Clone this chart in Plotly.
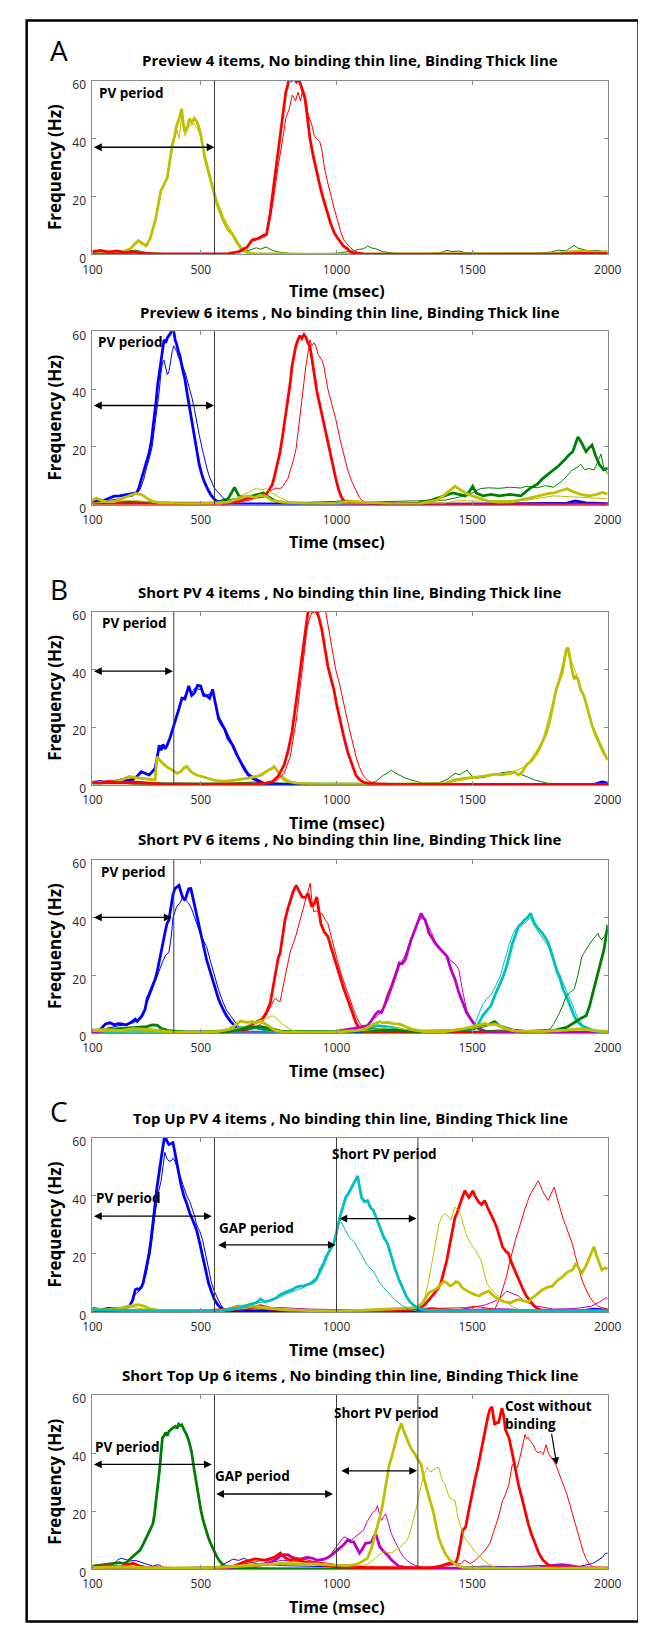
import plotly.graph_objects as go

# ---------------- DATA (time in msec, frequency in Hz) ----------------
X_TICKS = [100, 500, 1000, 1500, 2000]
Y_TICKS = [0, 20, 40, 60]

TITLES = [
    "Preview 4 items, No binding thin line, Binding Thick line",
    "Preview 6 items , No binding thin line, Binding Thick line",
    "Short PV 4 items , No binding thin line, Binding Thick line",
    "Short PV 6 items , No binding thin line, Binding Thick line",
    "Top Up PV 4 items , No binding thin line, Binding Thick line",
    "Short Top Up 6 items , No binding thin line, Binding Thick line",
]
SECTION_LETTERS = ["A", "B", "C"]

# ---- Panel 1: Preview 4 items
p1_yel_bind = [(100,1.2),(130,0.8),(160,1.0),(190,0.6),(215,1.0),(240,2.0),(255,3.5),(269,4.8),(285,3.8),(299,3.0),(315,6.0),(334,12.7),(352,21.9),(365,24.5),(376,26.4),(385,32),(394,37.8),(403,41),(411,44.6),(420,47),(429,50.3),(435,45),(441,42.3),(450,44),(458,46.9),(467,45.5),(476,47),(485,45.8),(494,43.5),(500,41),(506,37.8),(515,33),(524,29.8),(533,26.5),(541,23),(550,20.5),(559,17.3),(571,14.5),(583,11.6),(600,8.5),(617,6.9),(632,4.2),(646,2.3),(660,1.2),(674,0.6),(700,0.3),(750,0.2),(800,0.2),(900,0.1),(1000,0.1),(1200,0.1),(1400,0.1),(1600,0.2),(1800,0.3),(1850,0.8),(1900,1.2),(1950,0.8),(2000,1.0)]
p1_yel_nobind = [(100,0.8),(160,0.6),(215,0.8),(255,3),(269,4.2),(299,2.6),(334,12),(352,21),(376,27),(394,36),(411,43),(420,40),(429,48),(441,41),(450,43),(458,44.5),(476,45),(494,42),(506,38),(524,31),(541,25),(559,19),(583,13),(600,10),(617,7.5),(646,3),(674,0.8),(700,0.3),(800,0.1),(1800,0.1),(1900,0.8),(2000,0.5)]
p1_red_bind = [(100,1.0),(130,1.4),(160,0.8),(190,1.2),(220,0.6),(250,1.0),(280,0.5),(320,0.3),(400,0.2),(500,0.2),(600,0.3),(640,1.0),(670,2.5),(689,5),(710,5.5),(730,6.5),(742,7),(755,14),(766,21.9),(775,29),(784,35.5),(793,42),(802,46.9),(808,52),(813,56),(819,58),(825,61),(834,60),(843,61),(852,59.5),(860,60.5),(867,58.8),(876,56),(884,53.7),(893,47),(902,40),(914,34),(926,28.7),(938,24),(950,19.6),(965,14.5),(979,10.5),(994,7),(1009,4.8),(1024,3),(1039,2),(1050,1),(1062,0.5),(1100,0.2),(1500,0.1),(1800,0.1),(1900,0.4),(2000,0.3)]
p1_red_nobind = [(100,0.4),(300,0.2),(600,0.2),(650,1),(689,4.5),(720,5.5),(742,6.5),(755,12),(766,18),(784,30),(802,40),(813,47),(825,50),(837,55),(849,53),(858,56),(867,53),(876,57),(884,55),(896,48),(908,45),(918,41),(926,40),(938,39),(946,36),(955,30),(967,25),(979,20),(991,16),(1003,12),(1015,8),(1027,5),(1044,3),(1062,1.5),(1080,0.6),(1098,0.3),(1300,0.1),(2000,0.1)]
p1_grn_nobind = [(100,0.5),(200,0.8),(260,1.5),(300,0.6),(400,0.2),(600,0.3),(680,1.5),(704,2.3),(720,1.8),(740,2.6),(763,1.4),(790,0.8),(830,0.3),(900,0.2),(1000,0.4),(1060,1.2),(1085,1.8),(1100,2),(1115,2.9),(1130,2.2),(1143,2),(1170,1.0),(1218,0.3),(1300,0.2),(1380,0.5),(1407,1.4),(1425,1.0),(1451,1.2),(1480,0.5),(1550,0.2),(1650,0.4),(1730,0.4),(1790,0.8),(1818,1.5),(1845,1.2),(1860,2.0),(1876,3.1),(1890,2.2),(1905,1.8),(1930,1.2),(1960,1.4),(1990,1.0),(2000,0.8)]

# ---- Panel 2: Preview 6 items
p2_blu_bind = [(100,1.1),(120,1.8),(139,1.3),(160,2.2),(180,2.9),(200,3.0),(216,3.2),(235,3.5),(252,3.7),(262,4.0),(269,5.1),(281,9.1),(290,12),(299,14.9),(308,17.5),(317,21.7),(323,26),(329,30.9),(335,36),(340,41.1),(346,45),(352,49.1),(358,54),(364,57.1),(370,56),(376,57.7),(382,58.5),(388,59.4),(394,61),(400,60),(405,57),(411,55.4),(417,53),(423,51.4),(432,47),(441,43.4),(450,38),(459,33.1),(467,28),(476,22.9),(485,18),(494,13.7),(503,10.5),(512,8),(524,5.5),(536,3.4),(548,2),(559,1.1),(571,0.6),(583,0.3),(700,0.2),(1000,0.1),(1500,0.1),(1850,0.5),(1880,1.2),(1920,0.6),(2000,0.3)]
p2_blu_nobind = [(100,0.8),(150,1.2),(200,2.0),(250,3.0),(275,5),(290,9),(300,13),(310,16),(320,20),(330,27),(340,33),(346,39),(352,45),(358,49),(364,50),(370,47),(376,45),(382,46),(388,50),(394,53),(400,55),(405,54),(411,53),(417,51),(423,50),(432,48),(441,46),(450,43),(459,40),(467,37),(476,33),(485,28),(494,24),(503,20),(512,16),(521,13),(530,10),(539,8),(548,6),(556,5),(565,4),(574,3),(583,2),(592,1.3),(600,0.8),(620,0.2),(1000,0.1),(2000,0.1)]
p2_red_bind = [(100,0.5),(200,0.3),(400,0.2),(600,0.3),(640,1.2),(675,2.3),(700,2.5),(720,2.6),(734,2.9),(748,4.5),(763,6.9),(772,10),(782,14),(792,18.3),(800,23),(807,27.4),(814,32),(821,36.6),(829,42),(836,48),(843,52),(850,55),(858,57.1),(865,58.5),(872,57.5),(880,58.9),(887,58),(894,56),(902,54.9),(910,50),(917,44.6),(928,39),(939,34.3),(953,28),(968,21.7),(983,15),(997,9.1),(1008,5),(1019,2.3),(1031,1.0),(1043,0.5),(1100,0.3),(1200,0.1),(2000,0.1)]
p2_red_nobind = [(100,0.2),(600,0.2),(680,1.5),(720,3),(750,4.5),(763,5),(777,5.7),(790,5.5),(800,6),(810,7.5),(821,9.1),(830,12),(840,15),(851,19.4),(858,25),(866,32),(873,37),(880,43.4),(887,48),(894,52),(902,57.1),(910,55),(917,56),(924,54.9),(932,52),(939,51),(946,50),(953,48),(960,44),(968,40),(982,35),(997,29.7),(1012,23),(1027,17.1),(1041,12),(1056,8),(1070,5),(1085,2.3),(1100,1.0),(1114,0.5),(1200,0.2),(2000,0.1)]
p2_yel_bind = [(100,1.5),(115,2.2),(130,1.5),(150,1.0),(180,1.0),(200,1.8),(220,2.5),(240,3.2),(260,3.8),(283,3.4),(300,2.2),(320,1.2),(350,0.6),(400,0.4),(500,0.3),(600,0.8),(640,2),(670,3),(700,2.5),(720,3.2),(740,2.8),(760,1.5),(800,0.8),(850,0.5),(900,0.3),(1000,0.5),(1050,1.2),(1100,0.8),(1200,0.3),(1300,0.2),(1370,1.5),(1400,3.5),(1420,5),(1437,6.3),(1455,5.2),(1475,4),(1500,3),(1530,2),(1560,1.2),(1600,0.8),(1650,1),(1700,2),(1740,3),(1780,3.8),(1800,4),(1830,4.8),(1850,5.5),(1870,4.5),(1900,3.5),(1930,3),(1960,3.5),(1980,4.2),(2000,3.6)]
p2_yel_nobind = [(100,0.5),(200,1),(250,1.5),(300,1),(400,0.3),(600,0.8),(650,3),(680,4.5),(704,5.7),(720,5),(740,5.5),(760,4),(790,2.5),(820,1.2),(850,0.4),(1000,0.2),(1400,0.5),(1450,1.5),(1500,1.2),(1700,1.5),(1800,3),(1900,2.5),(2000,2)]
p2_grn_bind = [(100,0.5),(200,0.8),(400,0.5),(550,0.5),(600,2),(612,4),(624,5.9),(640,3),(660,2.5),(690,3),(715,3.5),(730,4),(750,2.5),(780,1),(820,0.6),(900,0.5),(1000,0.8),(1040,1.2),(1080,0.6),(1150,0.3),(1250,0.2),(1300,0.5),(1350,1.5),(1400,3),(1430,4),(1450,3.5),(1475,3),(1490,4.5),(1502,6.3),(1515,4),(1540,3),(1570,3.5),(1600,3),(1640,3.5),(1680,3),(1714,5.7),(1740,7),(1760,9),(1777,10.3),(1800,12),(1820,13.5),(1840,15.4),(1855,17),(1871,18.3),(1882,21),(1890,23.4),(1900,22),(1910,20),(1920,18.3),(1930,19.5),(1942,20.6),(1955,17),(1970,13.7),(1985,12),(2000,12.6)]
p2_grn_nobind = [(100,0.2),(550,0.3),(620,2),(680,2.5),(730,3),(780,1),(850,0.3),(1400,1.5),(1450,2.5),(1500,4),(1530,5.5),(1560,5.8),(1600,5.6),(1640,6),(1680,5.7),(1700,6.3),(1740,5.8),(1770,6.5),(1800,6),(1830,8),(1850,10),(1870,12),(1890,13),(1900,14),(1915,12),(1930,12.5),(1950,12),(1965,15),(1975,17.5),(1985,13),(2000,10.5)]

# ---- Panel 3: Short PV 4 items
p3_blu_bind = [(100,0.8),(130,1.2),(160,0.8),(190,1.0),(206,1.7),(230,1.5),(250,2.0),(265,3.0),(280,4.6),(295,4.0),(309,3.4),(320,4.5),(331,5.7),(338,9),(346,13.7),(353,12),(360,14),(368,12.5),(375,13.7),(385,16),(397,19.4),(408,23),(419,26.3),(430,30),(441,29.7),(448,32),(455,34.3),(466,31),(477,32),(488,34.5),(499,34.3),(510,31),(521,30.9),(532,30),(543,33.1),(554,28),(565,22.9),(576,21),(587,19.4),(600,16),(617,13.7),(632,10.5),(646,8),(660,5.5),(675,3.4),(690,2.3),(704,1.7),(720,0.8),(734,0.5),(800,0.2),(1500,0.1),(1950,0.2),(1980,1.0),(2000,0.6)]
p3_blu_nobind = [(100,0.5),(160,1.0),(206,2.0),(250,1.5),(280,4),(309,3.8),(331,5),(346,12.5),(360,13.5),(375,13),(397,20),(419,27),(441,31),(455,33),(466,32),(477,33.5),(499,33),(521,31),(543,32),(565,24),(587,20),(617,14),(646,8.5),(675,4),(704,2.2),(734,0.8),(760,0.3),(1500,0.1),(2000,0.2)]
p3_yel_bind = [(100,0.8),(150,1.0),(200,1.5),(236,2.9),(260,2.5),(290,2.2),(315,2.0),(331,1.7),(338,9.7),(349,8.5),(360,7.4),(371,6.5),(382,5.7),(396,5.0),(411,4.0),(425,4.5),(438,6),(448,6.3),(460,5),(472,4),(485,3.4),(506,2.8),(528,2.3),(550,1.6),(587,1.1),(615,1.5),(646,1.7),(675,2.3),(704,2.9),(726,3.5),(748,5.1),(760,5.5),(770,6.3),(780,5),(790,3.5),(807,1.7),(830,1.0),(851,0.6),(900,0.3),(1000,0.3),(1200,0.2),(1400,0.5),(1437,1.7),(1470,2.2),(1510,2.5),(1545,3),(1583,3.7),(1610,3.5),(1642,4),(1655,4.5),(1671,3.4),(1685,4.5),(1700,6.9),(1715,8),(1730,9.7),(1745,12),(1759,14.9),(1774,18),(1788,22.9),(1800,28),(1810,33.1),(1821,36),(1832,38.9),(1840,43),(1847,46.9),(1854,47.5),(1861,43.4),(1868,40),(1876,36.6),(1883,37.5),(1890,36.6),(1900,33),(1912,30.9),(1927,26),(1942,20.6),(1956,17),(1971,13.7),(1985,11),(2000,8.6)]
p3_yel_nobind = [(100,0.6),(200,1.2),(236,2.5),(331,1.5),(338,9),(360,7),(382,5.5),(411,4.2),(448,6),(485,3.2),(550,1.5),(646,1.8),(704,3),(748,5.5),(770,6.5),(790,3.8),(830,1.2),(900,0.3),(1400,0.5),(1510,2.5),(1583,3.5),(1642,4.2),(1700,6.5),(1759,15),(1810,33),(1847,47),(1861,44),(1890,37),(1942,21),(2000,9)]
p3_red_bind = [(100,1.0),(130,0.6),(160,1.2),(200,0.8),(250,1.0),(300,0.6),(350,0.3),(500,0.2),(700,0.3),(740,0.6),(763,1.1),(785,3),(807,6.9),(822,12),(836,18.3),(844,24),(851,29.7),(860,35),(868,41.1),(876,47),(883,52.6),(889,57),(894,59.4),(902,61),(913,60),(924,61),(935,58),(946,53.7),(957,47),(968,41.1),(979,37),(990,33.1),(1000,28),(1011,22.9),(1026,17),(1041,11.4),(1056,7),(1071,3.4),(1085,1.8),(1100,0.9),(1120,0.4),(1200,0.2),(2000,0.2)]
p3_red_nobind = [(100,0.5),(300,0.3),(700,0.2),(780,1.5),(807,4),(830,10),(851,22),(866,33),(880,45),(891,54),(902,58),(915,61),(926,59),(939,60),(950,61),(960,60),(972,53),(983,47),(997,40),(1011,35),(1026,28),(1041,22),(1056,16),(1071,10),(1085,6),(1100,3),(1115,1.5),(1130,0.8),(1160,0.3),(2000,0.1)]
p3_grn_bind = [(100,0.6),(200,1.0),(250,0.5),(400,0.3),(700,0.3),(1000,0.2),(1500,0.2),(2000,0.2)]
p3_grn_nobind = [(100,0.3),(300,0.5),(400,0.3),(600,0.5),(700,1),(780,0.5),(900,0.2),(1100,0.3),(1144,1.1),(1160,2.2),(1173,3.4),(1188,4),(1202,5.1),(1215,4.2),(1231,3.4),(1250,2.5),(1275,1.7),(1300,1),(1319,0.6),(1380,0.8),(1410,2),(1437,4),(1455,3.5),(1470,4.5),(1481,5.1),(1495,3.5),(1510,2.3),(1540,2.5),(1560,3),(1583,3.4),(1610,4.2),(1642,4.6),(1660,4.2),(1686,3.4),(1710,2.5),(1730,1.7),(1760,1),(1773,0.6),(1850,0.2),(2000,0.1)]

# ---- Panel 4: Short PV 6 items
p4_blu_bind = [(100,1.0),(125,0.8),(148,3.1),(165,3.5),(180,2.8),(195,3.2),(206,3.1),(225,2.8),(243,3.7),(258,4.8),(265,4),(272,4.8),(283,6),(294,8.2),(302,12),(309,13.4),(320,16),(331,18.6),(338,21),(346,24.3),(353,28),(360,31.2),(368,35),(375,38),(382,39.2),(389,44),(397,48),(404,50.1),(411,50.5),(419,51.2),(426,49),(433,47),(441,46),(448,48),(455,50),(463,50.1),(470,47),(477,44.9),(488,40),(499,34.6),(510,30),(521,25.4),(532,22),(543,18.6),(554,15),(565,11.7),(580,8.5),(594,6),(609,4),(624,2.5),(635,1.5),(646,0.8),(670,0.3),(800,0.2),(2000,0.1)]
p4_blu_nobind = [(100,0.6),(150,1.5),(200,2.5),(250,3.5),(280,5),(300,10),(320,15),(335,19),(346,22),(360,25),(370,27),(382,28),(390,33),(397,40),(404,42),(411,44),(422,45),(433,47),(444,46),(455,45),(466,43),(477,40),(488,37),(499,34),(510,32),(521,30),(532,26),(543,22),(554,18),(565,15),(580,11),(594,8),(609,6),(624,4),(637,2.5),(650,1),(670,0.4),(800,0.1),(2000,0.1)]
p4_red_bind = [(100,0.3),(400,0.2),(600,0.3),(646,0.8),(668,2),(690,3.1),(708,4),(726,4.8),(741,7),(756,10.5),(766,16),(777,23.1),(785,26),(792,27.7),(801,33),(810,39.2),(820,43),(829,46),(840,49),(851,51.2),(862,49),(873,47.2),(884,47),(895,48.4),(902,46),(909,43.8),(918,45),(927,47.2),(934,43),(942,38),(955,35),(968,33.5),(979,30),(990,26.6),(1001,23),(1012,19.7),(1026,15.5),(1041,11.7),(1056,7.5),(1071,3.7),(1082,2),(1092,0.8),(1110,0.3),(1300,0.1),(2000,0.1)]
p4_red_nobind = [(100,0.2),(650,0.3),(690,1.5),(720,3),(740,6),(760,10),(770,11.5),(777,12),(785,11),(792,11),(801,15),(810,20),(820,24),(829,28),(840,31),(851,34),(862,38),(873,42),(884,46),(895,50),(903,52),(909,46),(916,42),(927,42.5),(939,41),(946,41.5),(953,40),(960,39),(968,38),(979,34),(990,30),(1001,26),(1012,22),(1026,18),(1041,14),(1056,10),(1071,6),(1085,3.5),(1100,1.5),(1120,0.4),(1300,0.1),(2000,0.1)]
p4_mag_bind = [(100,0.3),(500,0.2),(800,0.2),(1000,0.5),(1012,0.8),(1060,1.5),(1090,2),(1114,2.5),(1130,4.5),(1144,6.5),(1155,7.5),(1166,7.1),(1177,9.5),(1188,12.8),(1202,16),(1217,19.7),(1224,22),(1231,24.3),(1242,24),(1253,25.4),(1264,29),(1275,32.3),(1286,35),(1297,38),(1305,40),(1312,41.5),(1320,40),(1327,39.2),(1334,37),(1341,34.6),(1352,33),(1363,31.2),(1374,30),(1385,28.9),(1396,28),(1407,26.6),(1422,22),(1437,18.6),(1451,14),(1466,10.5),(1480,7),(1495,4.8),(1510,2.8),(1524,1.4),(1554,0.5),(1650,0.3),(2000,0.2)]
p4_mag_nobind = [(100,0.2),(800,0.2),(1000,0.4),(1100,1.5),(1130,4),(1150,6),(1166,7.5),(1188,11),(1210,17),(1231,23),(1253,27),(1275,33),(1290,36),(1305,39),(1320,40.5),(1334,38),(1349,35),(1363,32),(1378,30),(1392,28),(1407,27),(1422,25),(1437,24),(1451,22),(1466,14),(1480,8),(1495,5),(1510,3),(1530,1.5),(1560,0.5),(1700,0.2),(2000,0.2)]
p4_cyn_bind = [(100,1.0),(150,0.5),(300,0.4),(500,0.3),(620,1),(650,2),(680,1.5),(700,2),(740,1),(800,0.4),(1000,0.5),(1100,1),(1150,2.5),(1200,2),(1250,1),(1300,0.6),(1400,0.8),(1480,1),(1510,1.4),(1525,3.5),(1539,6),(1555,8),(1569,9.4),(1583,12.8),(1594,15),(1605,17.4),(1616,20),(1627,23.1),(1638,27),(1649,31.2),(1660,34),(1671,36.9),(1682,38),(1693,39.2),(1704,40),(1715,41.5),(1722,40),(1730,38),(1745,36),(1759,34.6),(1770,33),(1781,31.2),(1792,28),(1803,24.3),(1814,21),(1825,18.6),(1836,15),(1847,12.8),(1858,10),(1869,7.1),(1880,5),(1890,3.7),(1905,2.5),(1920,1.9),(1935,1.2),(1949,0.8),(1975,0.5),(2000,0.4)]
p4_cyn_nobind = [(100,0.8),(300,0.3),(1000,0.3),(1480,1),(1510,3),(1525,7),(1539,10),(1555,12),(1569,13),(1585,16),(1605,20),(1616,24),(1627,28),(1638,31),(1649,34),(1660,36),(1671,37),(1682,37.5),(1693,38),(1704,39),(1715,40),(1730,37),(1745,35),(1759,33),(1770,31.5),(1781,30),(1792,27),(1803,25),(1814,22),(1825,20),(1836,17),(1847,15),(1858,12.5),(1869,10),(1880,7.5),(1890,5),(1905,3),(1920,2),(1949,0.5),(2000,0.3)]
p4_grn_bind = [(100,0.8),(200,1.5),(260,1.8),(300,2.2),(320,2.8),(338,2.7),(355,1.5),(380,0.8),(450,0.3),(600,0.5),(640,1.5),(680,2),(720,2.2),(760,1.5),(800,0.5),(1000,0.4),(1100,1),(1150,1.2),(1200,1),(1300,0.5),(1400,0.5),(1500,1.5),(1550,2.5),(1570,3.5),(1583,3.9),(1600,2.5),(1650,1),(1700,0.5),(1800,0.8),(1850,2),(1876,3.7),(1900,5),(1920,6),(1932,9),(1942,12.8),(1953,17),(1964,20.8),(1975,25),(1986,28.9),(1993,33),(2000,37.5)]
p4_grn_nobind = [(100,0.5),(300,1.5),(400,0.3),(600,0.5),(700,1.5),(800,0.3),(1500,0.5),(1600,1),(1700,0.8),(1760,1),(1788,1.4),(1800,3),(1817,6),(1832,9),(1847,12.8),(1860,14),(1876,15.1),(1890,20),(1905,26.6),(1920,29),(1935,31.2),(1950,33),(1964,34.6),(1971,33),(1978,32.3),(1990,34),(2000,35.7)]
p4_yel_bind = [(100,1.0),(150,1.2),(200,0.8),(250,1.5),(300,1.2),(350,0.8),(400,0.3),(550,0.3),(600,1.2),(624,2.5),(635,3.5),(646,4.2),(660,3.8),(675,3.7),(690,4),(705,3.5),(719,4.2),(733,3.5),(748,2.5),(763,1.5),(777,0.8),(800,0.4),(900,0.3),(1000,0.3),(1070,0.8),(1100,1.2),(1114,1.9),(1135,3),(1159,3.9),(1173,3.5),(1188,3.7),(1210,3.2),(1231,3.1),(1253,2.2),(1275,1.4),(1320,0.5),(1400,0.5),(1470,1.5),(1510,2.5),(1530,2.8),(1546,3.3),(1565,2.8),(1583,3.1),(1605,2.2),(1627,1.4),(1660,0.6),(1750,0.5),(1850,1),(1900,1.5),(1950,0.8),(2000,0.5)]
p4_yel_nobind = [(100,0.5),(400,0.3),(600,0.8),(650,2),(700,3.5),(740,5),(763,6),(780,5),(800,3),(830,1.2),(860,0.3),(1100,0.8),(1200,2),(1300,0.5),(1500,1.5),(1580,3),(1650,0.5),(1900,1),(2000,0.3)]

# ---- Panel 5: Top Up PV 4 items
p5_blu_bind = [(100,1.2),(130,0.8),(160,1.2),(199,1.1),(220,1.5),(236,2),(248,4),(258,7.7),(265,8),(272,7.7),(280,8.5),(287,10),(298,15),(309,20.2),(316,25),(324,30.5),(331,37),(338,43),(345,48),(353,53.2),(360,57),(367,61),(374,59),(382,57.7),(390,58),(397,58.3),(404,55),(411,52),(418,48),(426,44),(437,40),(448,37.3),(459,34),(470,31.6),(477,30),(484,28.2),(495,24),(506,19.1),(517,14),(528,10),(539,7),(550,4.3),(562,2.5),(573,1.5),(594,0.3),(700,0.2),(1000,0.2),(1500,0.1),(1900,0.4),(1950,1),(2000,0.6)]
p5_blu_nobind = [(100,0.8),(200,1.0),(236,2),(258,6),(280,8),(298,13),(316,22),(331,34),(345,42),(353,45),(360,50),(367,55),(374,53),(382,52),(390,52),(397,53),(404,52),(411,50),(418,48),(426,46),(437,43),(448,40),(459,38),(470,35),(477,33),(484,30),(495,28),(506,25),(517,20),(528,15),(539,10),(550,7),(562,4.5),(573,2.5),(583,1.2),(594,0.5),(620,0.2),(1000,0.1),(2000,0.2)]
p5_cyn_bind = [(100,0.8),(200,0.5),(300,0.4),(450,0.3),(550,0.4),(600,0.8),(646,1.5),(675,2.5),(704,3.2),(720,4.5),(735,3.5),(750,3.8),(763,4.3),(780,5),(793,6),(808,6.5),(822,7),(836,7.7),(850,8.5),(865,8.9),(880,9),(895,9.4),(910,10),(924,11.1),(932,12.5),(939,14.5),(946,15.5),(954,17),(961,19),(968,20.2),(979,22),(990,23.6),(1001,28),(1012,32.7),(1023,36),(1034,39.5),(1045,41),(1056,43),(1067,44.5),(1078,46.9),(1085,43),(1092,39.5),(1103,38),(1114,38.4),(1125,36),(1136,35),(1148,32),(1159,29.3),(1173,26),(1188,23.6),(1202,19),(1217,14.5),(1231,11),(1246,7.7),(1257,5.5),(1268,3.8),(1282,2.5),(1297,1.5),(1315,0.9),(1334,0.6),(1400,0.5),(1600,0.5),(2000,0.5)]
p5_cyn_nobind = [(100,0.5),(300,0.3),(600,0.5),(646,1.2),(704,3),(763,4),(822,6.5),(880,8.5),(939,13),(968,19),(990,24),(1001,27),(1012,32),(1023,30),(1034,28),(1045,26),(1056,25),(1067,24),(1078,22),(1089,20),(1100,18),(1114,16),(1125,15),(1136,14),(1148,12),(1159,10),(1173,8.5),(1188,7),(1202,5.5),(1217,4),(1231,3),(1246,2),(1268,1),(1297,0.3),(2000,0.2)]
p5_yel_bind = [(100,1.0),(150,0.8),(200,1.2),(230,2),(250,2.2),(270,2.5),(290,2),(310,1.2),(350,0.5),(450,0.3),(580,0.5),(620,1.5),(646,2),(680,2.2),(720,1.8),(760,1.2),(800,0.8),(900,0.5),(1000,0.4),(1100,0.6),(1200,1),(1250,1.2),(1275,1.5),(1297,1.5),(1308,2.5),(1319,3.2),(1330,5),(1341,6.6),(1352,7.2),(1363,7.7),(1374,8.5),(1385,9.4),(1396,10.5),(1407,10),(1418,9),(1429,9.4),(1440,10.5),(1451,10),(1462,8.5),(1473,7.7),(1484,7),(1495,6.6),(1510,6),(1525,5.5),(1543,6.5),(1561,7.2),(1580,5.5),(1598,4.3),(1620,3.5),(1642,3.2),(1656,3.8),(1671,4.3),(1690,3.8),(1707,3.4),(1718,4.5),(1729,5.5),(1744,6.5),(1759,7.7),(1777,8.5),(1795,8.9),(1806,10),(1817,11.1),(1832,12),(1847,13.4),(1858,14),(1869,14.5),(1876,15.5),(1883,16.8),(1894,15),(1905,13.4),(1920,16),(1935,19.1),(1942,21),(1949,22.5),(1957,20),(1964,18),(1971,16),(1978,14.5),(1990,15.2),(2000,14.8)]
p5_yel_nobind = [(100,0.5),(250,1.5),(350,0.4),(600,0.5),(680,1.5),(800,0.6),(1000,0.5),(1200,1),(1280,1.5),(1305,2),(1316,3.5),(1327,5.5),(1338,10),(1349,15.7),(1356,20),(1363,23.6),(1370,27),(1378,30.5),(1389,33),(1400,33.9),(1411,33),(1422,31.6),(1429,34),(1437,36.1),(1444,35.5),(1451,35),(1459,33),(1466,30.5),(1477,27),(1488,24.8),(1499,23),(1510,21.4),(1521,20),(1532,18),(1543,14),(1554,10),(1568,8),(1583,6.6),(1605,4.5),(1627,3.2),(1650,1.8),(1671,0.9),(1700,0.3),(2000,0.2)]
p5_red_bind = [(100,0.5),(250,0.3),(500,0.3),(600,1),(640,2),(680,1.5),(720,2.2),(760,1.2),(820,0.5),(1000,0.4),(1200,0.5),(1270,0.8),(1297,0.9),(1308,1.5),(1319,2),(1330,3),(1341,4.3),(1352,5.5),(1363,6.6),(1374,8),(1385,10),(1396,14),(1407,18),(1415,22),(1422,25.9),(1429,29),(1437,32.7),(1444,34),(1451,36.1),(1462,39),(1473,41.8),(1480,40.5),(1488,39.5),(1495,40.5),(1503,41.8),(1510,40),(1518,39),(1525,37.8),(1535,37),(1546,38.4),(1557,36),(1569,33.9),(1580,31.5),(1590,29.3),(1601,26),(1612,22.5),(1623,21),(1634,20.2),(1645,17),(1656,14.5),(1667,12),(1678,10),(1689,7.5),(1700,5.5),(1715,3.5),(1729,2),(1745,1),(1759,0.6),(1850,0.4),(2000,0.3)]
p5_red_nobind = [(100,0.3),(600,0.5),(700,1),(800,0.5),(1000,0.4),(1300,1),(1400,1.2),(1480,1.5),(1510,2),(1540,1.5),(1570,1),(1583,0.9),(1594,3),(1605,5.5),(1616,9),(1627,12.3),(1638,17),(1649,21.4),(1660,25),(1671,28.2),(1682,32),(1693,35),(1704,38),(1715,40.7),(1730,43),(1744,45.2),(1752,43.5),(1759,41.8),(1770,40),(1781,38.4),(1792,41),(1803,43),(1814,39),(1825,35),(1836,32),(1847,29.3),(1858,26.5),(1869,23.6),(1880,19.5),(1890,15.7),(1905,11),(1920,7.7),(1935,5),(1949,3.2),(1964,2),(1978,1.5),(2000,1)]
p5_mag_bind = [(100,0.3),(600,0.4),(800,0.5),(1200,0.4),(1400,0.5),(1600,0.8),(1700,0.5),(2000,0.4)]
p5_mag_nobind = [(100,0.3),(600,0.5),(700,1.2),(800,1.5),(900,1),(1000,0.8),(1100,0.5),(1200,0.5),(1300,1),(1350,1.5),(1400,1),(1450,0.8),(1500,1.5),(1550,2.5),(1590,4),(1610,5.5),(1627,7.2),(1645,6.5),(1660,6),(1671,5.5),(1690,4),(1710,3),(1740,2),(1800,1),(1880,1.2),(1940,2),(1970,3.5),(1985,4.5),(1993,4.9),(2000,4.5)]

# ---- Panel 6: Short Top Up 6 items
p6_grn_bind = [(100,1.0),(133,1.4),(160,1.6),(181,1.9),(200,2.2),(216,1.9),(228,2.4),(240,3.6),(258,5),(275,6.5),(287,8.5),(299,11),(311,13),(323,15.6),(329,19),(335,23.6),(341,28),(347,33.8),(352,39),(358,45.2),(364,46),(370,47),(376,46),(382,47.5),(394,48.5),(406,49.2),(412,48.5),(418,50),(424,49.5),(429,49.8),(438,48),(447,46.4),(456,44),(465,40.7),(474,35),(482,30.4),(491,25),(500,20.2),(509,16.5),(518,13.3),(527,11),(536,8.8),(547,6.5),(559,4.2),(571,2.5),(583,1.4),(600,0.5),(650,0.2),(1000,0.1),(1500,0.1),(2000,0.1)]
p6_blu_nobind = [(100,0.8),(145,1.6),(169,1.0),(180,2.0),(193,3.1),(205,3.8),(216,3.5),(228,3.2),(240,2.8),(258,3.0),(275,2.5),(290,2.0),(305,1.5),(323,1.0),(335,1.4),(347,1.4),(360,0.6),(370,0.2),(500,0.1),(560,0.5),(590,2),(617,3.4),(640,3),(660,3.8),(680,2.5),(720,1.5),(800,1.2),(900,1),(1000,0.6),(1200,0.3),(1400,0.5),(1550,1),(1650,0.8),(1750,1.2),(1850,0.8),(1900,1),(1944,1.9),(1955,2.5),(1968,3.1),(1980,4),(1991,5.4),(2000,5.5)]
p6_mag_bind = [(100,0.3),(400,0.2),(600,0.5),(650,1),(704,0.9),(735,1.8),(763,2.6),(780,3.5),(793,4.5),(808,5),(822,4.9),(836,4),(851,3.2),(870,3.5),(890,4),(909,3.8),(930,3),(953,3.4),(968,4),(983,4.9),(997,6),(1012,7.2),(1027,8.5),(1041,10),(1052,9.5),(1063,9.4),(1074,7.5),(1085,5.5),(1096,7),(1107,8.9),(1118,9),(1129,9.4),(1137,11),(1144,12.3),(1152,10),(1159,7.7),(1170,6.5),(1181,5.5),(1191,4.5),(1202,3.2),(1216,2),(1231,0.9),(1260,0.5),(1297,0.3),(1500,0.2),(1750,0.5),(1790,1.2),(1830,1.5),(1860,1.2),(1900,0.5),(2000,0.3)]
p6_mag_nobind = [(100,0.2),(600,0.5),(700,1.5),(800,3),(900,2.5),(950,3),(968,3.8),(982,5.5),(997,7.2),(1012,9),(1027,11.1),(1041,10.5),(1056,10),(1067,11),(1078,11.7),(1089,12.5),(1100,13.4),(1111,16),(1122,18),(1133,19.5),(1144,20.2),(1151,21.9),(1158,19),(1166,16.8),(1173,18),(1181,19.1),(1191,16),(1202,12.3),(1213,10),(1224,7.7),(1235,6),(1246,4.3),(1260,3),(1275,2),(1290,1.3),(1305,0.9),(1330,0.4),(1500,0.2),(2000,0.2)]
p6_yel_bind = [(100,0.5),(200,0.8),(300,0.5),(500,0.4),(600,0.8),(700,1.5),(800,2),(900,1.8),(1000,1.5),(1040,1.2),(1071,1.5),(1093,2.5),(1114,3.8),(1122,5.5),(1129,7.2),(1140,11),(1151,14.5),(1159,17.5),(1166,20.2),(1173,24),(1181,28.2),(1188,32),(1195,36.1),(1203,38.5),(1210,40.7),(1217,43.5),(1224,46.4),(1232,48.5),(1239,50.3),(1246,48),(1253,46.4),(1260,44.5),(1268,43),(1279,41),(1290,39.5),(1301,37.5),(1312,36.1),(1323,31),(1334,27),(1345,23.5),(1356,20.2),(1366,15.5),(1376,11),(1388,8),(1400,5.4),(1417,3.2),(1435,1.9),(1450,0.9),(1471,0.6),(1550,0.3),(2000,0.3)]
p6_yel_nobind = [(100,0.3),(300,0.3),(600,0.5),(800,1.5),(1000,1.2),(1080,1.2),(1114,1.5),(1129,2.8),(1144,3.8),(1159,5),(1173,6),(1188,5.8),(1202,5.5),(1217,6.5),(1231,7.2),(1246,8.5),(1261,10),(1272,13),(1283,16.8),(1294,21),(1305,25.9),(1312,29),(1319,31.6),(1327,33.5),(1334,35),(1341,34),(1349,33.5),(1356,34.4),(1363,34.4),(1370,35),(1378,35),(1385,32),(1392,30),(1400,29.3),(1407,27),(1415,24.8),(1426,24),(1437,23.6),(1447,18),(1458,15),(1471,11),(1488,9),(1506,6.5),(1522,5),(1541,3.1),(1560,1.8),(1577,0.8),(1600,0.4),(2000,0.2)]
p6_red_bind = [(100,0.8),(150,1.2),(200,0.8),(230,1.5),(250,2),(270,1.2),(300,0.5),(400,0.2),(550,0.3),(620,1),(660,2.5),(700,3.5),(740,3),(770,4),(793,5.5),(810,4),(830,3),(851,3.4),(880,2.5),(910,2),(950,1.5),(1000,0.8),(1100,0.5),(1200,0.4),(1300,0.4),(1350,0.5),(1378,0.9),(1400,1.5),(1415,2),(1423,1.9),(1432,2.2),(1441,2.5),(1447,4),(1453,6.5),(1459,10),(1465,13.3),(1470,14),(1476,14.5),(1485,19),(1494,23.6),(1503,27.5),(1512,31.5),(1521,35),(1530,39.5),(1536,41.5),(1541,44.1),(1547,47.5),(1553,50.9),(1559,53),(1565,54.9),(1573,56),(1578,53),(1583,49.8),(1590,50.5),(1597,50.5),(1604,53),(1610,55.5),(1616,53),(1623,48),(1630,46.5),(1636,45.2),(1648,40),(1660,33.8),(1671,29),(1683,24.7),(1695,20),(1707,15.6),(1719,12),(1731,8.8),(1746,5.5),(1761,3.1),(1780,1.5),(1798,0.8),(1830,0.5),(1900,0.3),(2000,0.3)]
p6_red_nobind = [(100,0.5),(200,0.8),(300,0.3),(600,0.8),(700,2.5),(760,4),(800,5),(830,4.5),(870,3.5),(920,2.5),(970,2),(1000,1.5),(1100,0.8),(1200,0.5),(1300,0.4),(1400,1),(1440,1.5),(1459,1.9),(1471,3.1),(1482,2.5),(1494,1.9),(1512,3),(1530,4.8),(1548,6.5),(1565,8.8),(1577,12),(1589,15.6),(1600,19),(1612,23.6),(1624,26),(1636,29.3),(1642,33),(1648,36.1),(1657,35),(1666,35),(1675,38),(1683,41.8),(1689,44),(1695,46.4),(1701,45),(1707,45.2),(1716,44),(1725,42.9),(1734,41),(1743,40.1),(1752,40.5),(1761,39.5),(1767,41),(1773,42.9),(1781,40),(1790,38.9),(1799,37.5),(1808,36.1),(1817,34),(1826,31.5),(1838,28.5),(1849,25.9),(1861,22),(1873,17.9),(1885,14),(1897,9.9),(1908,6.5),(1920,3.6),(1932,1.8),(1944,0.8),(1970,0.4),(2000,0.5)]

# period boundaries (msec) drawn as vertical lines in each panel
PERIOD_LINES = [[550], [550], [400], [400], [550, 1000, 1300], [550, 1000, 1300]]
# double-headed period arrows: (start ms, end ms, level Hz)
PERIOD_ARROWS = [
    [(100, 550, 37)],
    [(100, 548, 34.3)],
    [(100, 397, 39.4)],
    [(100, 392, 40.1)],
    [(100, 540, 33), (558, 997, 23.1), (1005, 1295, 32.2)],
    [(100, 540, 36.1), (551, 987, 25.9), (1012, 1297, 33.9)],
]
# period labels: (text, ms, Hz) left-anchored
PERIOD_LABELS = [
    [("PV period", 117, 55.8)],
    [("PV period", 115, 56.2)],
    [("PV period", 128, 56)],
    [("PV period", 125, 56)],
    [("PV period", 104, 39.2), ("GAP period", 560, 28.8), ("Short PV period", 977, 54.5)],
    [("PV period", 102, 42.1), ("GAP period", 546, 32.2), ("Short PV period", 985, 53.8)],
]
COST_NOTE = ("Cost without<br>binding", 1615, 53.0)
COST_ARROW = (1792, 47.2, 1812, 36.0)

# ---------------- STYLE / LAYOUT ----------------
BLUE, GREEN, RED = "#0000FF", "#008000", "#FF0000"
CYAN, MAGENTA, YELLOW = "#00BFBF", "#BF00BF", "#BFBF00"
THICK, THIN = 2.8, 1.0
FONT = "Open Sans"

PANEL_SERIES = [
    [(p1_grn_nobind, GREEN, THIN), (p1_yel_bind, YELLOW, THICK), (p1_yel_nobind, YELLOW, THIN),
     (p1_red_bind, RED, THICK), (p1_red_nobind, RED, THIN)],
    [(p2_grn_nobind, GREEN, THIN), (p2_grn_bind, GREEN, THICK), (p2_blu_bind, BLUE, THICK), (p2_blu_nobind, BLUE, THIN),
     (p2_red_bind, RED, THICK), (p2_red_nobind, RED, THIN), (p2_yel_nobind, YELLOW, THIN), (p2_yel_bind, YELLOW, THICK)],
    [(p3_grn_bind, GREEN, THICK), (p3_grn_nobind, GREEN, THIN), (p3_blu_bind, BLUE, THICK), (p3_blu_nobind, BLUE, THIN),
     (p3_yel_bind, YELLOW, THICK), (p3_yel_nobind, YELLOW, THIN), (p3_red_bind, RED, THICK), (p3_red_nobind, RED, THIN)],
    [(p4_blu_bind, BLUE, THICK), (p4_blu_nobind, BLUE, THIN), (p4_red_bind, RED, THICK), (p4_red_nobind, RED, THIN),
     (p4_mag_bind, MAGENTA, THICK), (p4_mag_nobind, MAGENTA, THIN), (p4_cyn_bind, CYAN, THICK), (p4_cyn_nobind, CYAN, THIN),
     (p4_grn_bind, GREEN, THICK), (p4_grn_nobind, GREEN, THIN), (p4_yel_bind, YELLOW, THICK), (p4_yel_nobind, YELLOW, THIN)],
    [(p5_mag_bind, MAGENTA, THICK), (p5_mag_nobind, MAGENTA, THIN), (p5_blu_bind, BLUE, THICK), (p5_blu_nobind, BLUE, THIN),
     (p5_red_bind, RED, THICK), (p5_red_nobind, RED, THIN), (p5_yel_bind, YELLOW, THICK), (p5_yel_nobind, YELLOW, THIN),
     (p5_cyn_bind, CYAN, THICK), (p5_cyn_nobind, CYAN, THIN)],
    [(p6_blu_nobind, BLUE, THIN), (p6_grn_bind, GREEN, THICK), (p6_mag_bind, MAGENTA, THICK), (p6_mag_nobind, MAGENTA, THIN),
     (p6_red_bind, RED, THICK), (p6_red_nobind, RED, THIN), (p6_yel_nobind, YELLOW, THIN), (p6_yel_bind, YELLOW, THICK)],
]

W, H = 646, 1628
PLOT_L, PLOT_R = 77.3, 612.5
PANEL_TOP = [68.3, 321.7, 605.0, 856.0, 1136.7, 1396.7]
PANEL_BOT = [244.0, 496.7, 780.0, 1030.7, 1312.7, 1572.5]
TITLE_Y = [48, 301.7, 585, 835, 1116.7, 1376]
XTITLE_Y = [281, 535, 819, 1069.5, 1351.5, 1611]
LETTER_POS = [(43, 37), (43, 581.7), (43, 1110)]


def fx(px):
    return px / W


def fy(px):
    return 1 - px / H


fig = go.Figure()
annotations, shapes = [], []
layout = {}

for i in range(6):
    sfx = "" if i == 0 else str(i + 1)
    xa, ya = "x" + sfx, "y" + sfx
    for pairs, color, width in PANEL_SERIES[i]:
        fig.add_trace(go.Scatter(
            x=[p[0] for p in pairs], y=[p[1] for p in pairs], mode="lines",
            line=dict(color=color, width=width), xaxis=xa, yaxis=ya,
            showlegend=False, hoverinfo="skip"))
    axis_common = dict(
        showline=True, linecolor="#8a8a8a", linewidth=1, mirror="ticks",
        ticks="inside", ticklen=4, tickwidth=1, tickcolor="#8a8a8a",
        showgrid=False, zeroline=False,
        tickfont=dict(family=FONT, size=12, color="#262626"))
    layout["xaxis" + sfx] = dict(
        axis_common, domain=[fx(PLOT_L), fx(PLOT_R)], range=[100, 2000],
        tickvals=X_TICKS, anchor=ya, ticklabelstandoff=4)
    layout["yaxis" + sfx] = dict(
        axis_common, domain=[fy(PANEL_BOT[i]), fy(PANEL_TOP[i])], range=[0, 60],
        tickvals=Y_TICKS, anchor=xa, ticklabelstandoff=3, ticklabelshift=4)

    # title
    annotations.append(dict(
        text=TITLES[i], x=fx((PLOT_L + PLOT_R) / 2), y=fy(TITLE_Y[i]), xref="paper", yref="paper",
        showarrow=False, xanchor="center", yanchor="middle",
        font=dict(family=FONT, size=15, color="black", weight="bold")))
    # y title
    annotations.append(dict(
        text="Frequency (Hz)", x=fx(38), y=fy((PANEL_TOP[i] + PANEL_BOT[i]) / 2),
        xref="paper", yref="paper", showarrow=False, textangle=-90,
        xanchor="center", yanchor="middle",
        font=dict(family=FONT, size=17, color="black", weight="bold")))
    # x title
    annotations.append(dict(
        text="Time (msec)", x=1000, y=fy(XTITLE_Y[i]), xref=xa, yref="paper",
        showarrow=False, xanchor="center", yanchor="middle", borderpad=0,
        font=dict(family=FONT, size=16, color="black", weight="bold")))
    # vertical period lines
    for t in PERIOD_LINES[i]:
        shapes.append(dict(type="line", xref=xa, yref=ya + " domain", x0=t, x1=t, y0=0, y1=1,
                           line=dict(color="#3a3a3a", width=1)))
    # arrows
    for (t0, t1, lvl) in PERIOD_ARROWS[i]:
        annotations.append(dict(
            x=t1, y=lvl, ax=t0, ay=lvl, xref=xa, yref=ya, axref=xa, ayref=ya,
            text="", showarrow=True, arrowhead=2, startarrowhead=2, arrowside="end+start",
            arrowsize=1.2, startarrowsize=1.2, arrowwidth=1.3, arrowcolor="black"))
    for (txt, t, lvl) in PERIOD_LABELS[i]:
        annotations.append(dict(
            text=txt, x=t, y=lvl, xref=xa, yref=ya, showarrow=False,
            xanchor="left", yanchor="middle",
            font=dict(family=FONT, size=13.5, color="black", weight="bold")))

# cost note in last panel
annotations.append(dict(
    text=COST_NOTE[0], x=COST_NOTE[1], y=COST_NOTE[2], xref="x6", yref="y6", showarrow=False,
    xanchor="left", yanchor="middle", align="left",
    font=dict(family=FONT, size=13.5, color="black", weight="bold")))
annotations.append(dict(
    x=COST_ARROW[2], y=COST_ARROW[3], ax=COST_ARROW[0], ay=COST_ARROW[1],
    xref="x6", yref="y6", axref="x6", ayref="y6", text="", showarrow=True,
    arrowhead=2, arrowsize=1.2, arrowwidth=1.2, arrowcolor="black"))

# section letters
for letter, (lx, ly) in zip(SECTION_LETTERS, LETTER_POS):
    annotations.append(dict(
        text=letter, x=fx(lx), y=fy(ly), xref="paper", yref="paper", showarrow=False,
        xanchor="center", yanchor="middle",
        font=dict(family=FONT, size=28, color="black")))

# outer frame
shapes.append(dict(type="rect", xref="paper", yref="paper",
                   x0=fx(9), x1=fx(644.5), y0=fy(1625.5), y1=fy(7.5),
                   line=dict(color="black", width=2.5)))

fig.update_layout(
    width=W, height=H, autosize=False,
    margin=dict(l=0, r=0, t=0, b=0),
    paper_bgcolor="white", plot_bgcolor="white",
    showlegend=False, annotations=annotations, shapes=shapes,
    **layout)

fig.write_html("out.html")
